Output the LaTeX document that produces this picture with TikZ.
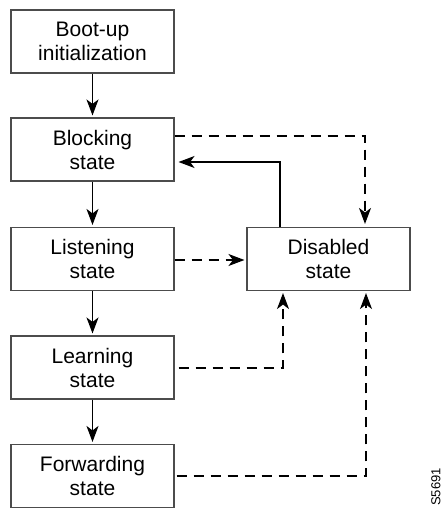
\documentclass[tikz,border=0pt]{standalone}
\usepackage{fontspec}
\setmainfont{Liberation Sans}
\usetikzlibrary{arrows.meta}
\begin{document}
\begin{tikzpicture}[x=1pt,y=-1pt,
  statebox/.style={draw=black!70,line width=1.1pt,minimum width=163pt,minimum height=63pt,
    inner sep=0pt,align=center,font=\fontsize{21}{24}\selectfont},
  conn/.style={line width=1.2pt,-{Stealth[length=16pt,width=12pt,inset=4.5pt]}},
  dconn/.style={conn,dash pattern=on 10pt off 7pt}]
\useasboundingbox (0,0) rectangle (443,508);
\node[statebox] (boot) at (92.5,41.5) {Boot-up\\initialization};
\node[statebox] (block) at (92.5,149.5) {Blocking\\state};
\node[statebox] (listen) at (92.5,259) {Listening\\state};
\node[statebox] (learn) at (92.5,367.5) {Learning\\state};
\node[statebox] (fwd) at (92.5,476) {Forwarding\\state};
\node[statebox] (dis) at (328.5,259) {Disabled\\state};
\node[rotate=90,font=\fontsize{13}{15}\selectfont,inner sep=0pt] (lbl) at (436,487) {S5691};
\coordinate (c1) at (365,136);
\coordinate (c2) at (280,162);
\coordinate (c3) at (283,368);
\coordinate (c4) at (366,476);
\draw[conn,shorten >=2pt] (boot) -- (block);
\draw[conn,shorten >=2pt] (block) -- (listen);
\draw[conn,shorten >=2pt] (listen) -- (learn);
\draw[conn,shorten >=2pt] (learn) -- (fwd);
\draw[dconn,shorten >=3pt] (block.east |- c1) -| (dis.north -| c1);
\draw[conn,shorten >=4pt] (dis.north -| c2) |- (block.east |- c2);
\draw[dconn,shorten >=2pt] (listen.east |- 0,260) -- (dis.west |- 0,260);
\draw[dconn,shorten <=4pt,shorten >=2pt] (learn.east |- c3) -| (dis.south -| c3);
\draw[dconn,shorten <=2pt,shorten >=2pt] (fwd.east |- c4) -| (dis.south -| c4);
\end{tikzpicture}
\end{document}
